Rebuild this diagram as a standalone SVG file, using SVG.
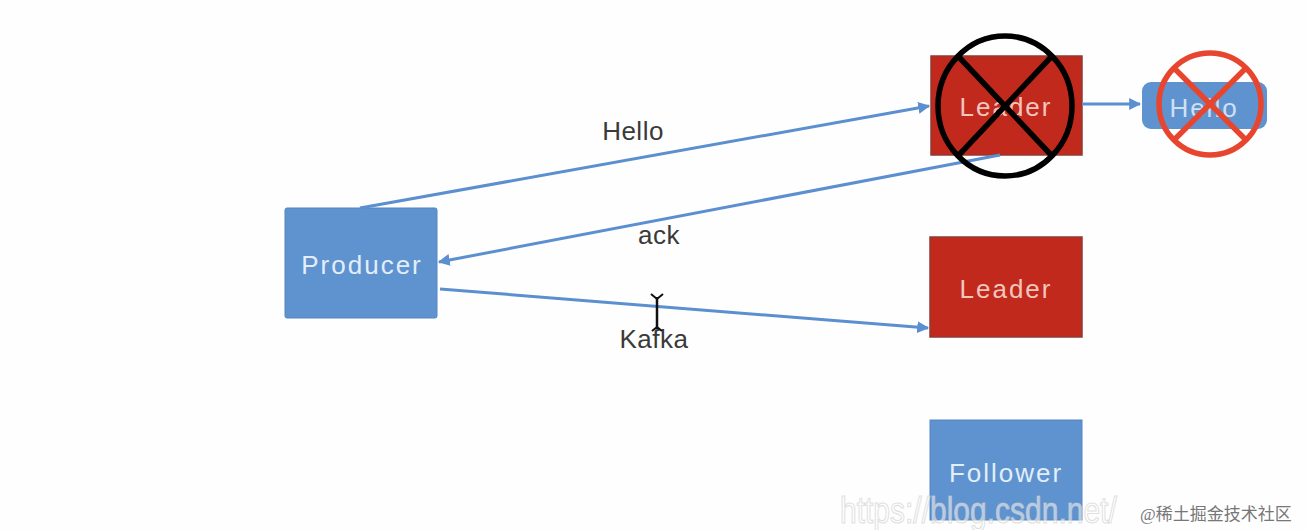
<svg xmlns="http://www.w3.org/2000/svg" width="1306" height="530" viewBox="0 0 1306 530">
<style>
.blue{fill:#5f93cf;stroke:#5585c0;stroke-width:1}
.red{fill:#c1291d;stroke:#8e3a35;stroke-width:1.5}
.nt{font-family:"Liberation Sans",Arial,sans-serif;font-size:26px;text-anchor:middle;letter-spacing:2px}
.lbl{font-family:"Liberation Sans",Arial,sans-serif;font-size:26px;fill:#3a3a3a;text-anchor:middle;letter-spacing:0.5px}
.conn{stroke:#5b8fd0;stroke-width:3;fill:none;marker-end:url(#ah)}
</style>
<defs>
<marker id="ah" viewBox="0 0 10 10" refX="9" refY="5" markerWidth="4" markerHeight="4" orient="auto" markerUnits="strokeWidth">
<path d="M0,0 L10,5 L0,10 z" fill="#5b8fd0"/>
</marker>
</defs>
<rect width="1306" height="530" fill="#fefefe"/>
<g id="producer">
<rect class="blue" x="285" y="208" width="152" height="110" rx="2"/>
<text class="nt" x="362" y="274" fill="#e2eef9">Producer</text>
</g>
<g id="leader1">
<rect class="red" x="931" y="56" width="151" height="99"/>
<text class="nt" x="1006" y="116" fill="#f2c6bd">Leader</text>
</g>
<g id="hello">
<rect x="1142" y="82" width="125" height="47" rx="9" fill="#5f93cf"/>
<text class="nt" x="1204" y="117" fill="#cfe0f4">Hello</text>
</g>
<g id="leader2">
<rect class="red" x="930" y="237" width="152" height="100"/>
<text class="nt" x="1006" y="298" fill="#f2c6bd">Leader</text>
</g>
<g id="follower">
<rect class="blue" x="930" y="420" width="152" height="100"/>
<text class="nt" x="1006" y="482" fill="#e2eef9">Follower</text>
</g>
<g id="connectors">
<line class="conn" x1="360" y1="208" x2="929" y2="106"/>
<line class="conn" x1="1000" y1="155" x2="439" y2="262"/>
<line class="conn" x1="440" y1="289" x2="928" y2="328"/>
<line class="conn" x1="1082" y1="104" x2="1140" y2="104"/>
</g>
<g id="labels">
<text class="lbl" x="633" y="140">Hello</text>
<text class="lbl" x="659" y="244">ack</text>
<text class="lbl" x="654" y="348">Kafka</text>
</g>
<g id="cursor" stroke="#111" fill="none" stroke-width="2.5">
<line x1="657" y1="297" x2="657" y2="329"/>
<path d="M651,294 L657,299 L663,294" stroke-width="2"/>
<path d="M652,331 L657,327 L662,331" stroke-width="2"/>
</g>
<g id="cross-black" stroke="#000" stroke-width="5.5" fill="none">
<ellipse cx="1005" cy="106" rx="67" ry="70"/>
<line x1="958" y1="56" x2="1052" y2="156"/>
<line x1="1052" y1="56" x2="958" y2="156"/>
</g>
<g id="cross-red" stroke="#e8452f" stroke-width="5.5" fill="none">
<circle cx="1210" cy="104" r="51"/>
<line x1="1174" y1="68" x2="1246" y2="140"/>
<line x1="1246" y1="68" x2="1174" y2="140"/>
</g>
<g id="watermark" font-family="Liberation Sans,Arial,sans-serif">
<text transform="translate(840,523) scale(1,1.2)" x="0" y="0" font-size="30" fill="#ffffff" fill-opacity="0.55" stroke="#cccccc" stroke-opacity="0.6" stroke-width="1">https://blog.csdn.net/</text>
<text x="1140" y="520" font-size="17" fill="#777" font-family="Liberation Serif,Noto Sans CJK SC,serif">@稀土掘金技术社区</text>
</g>
</svg>
